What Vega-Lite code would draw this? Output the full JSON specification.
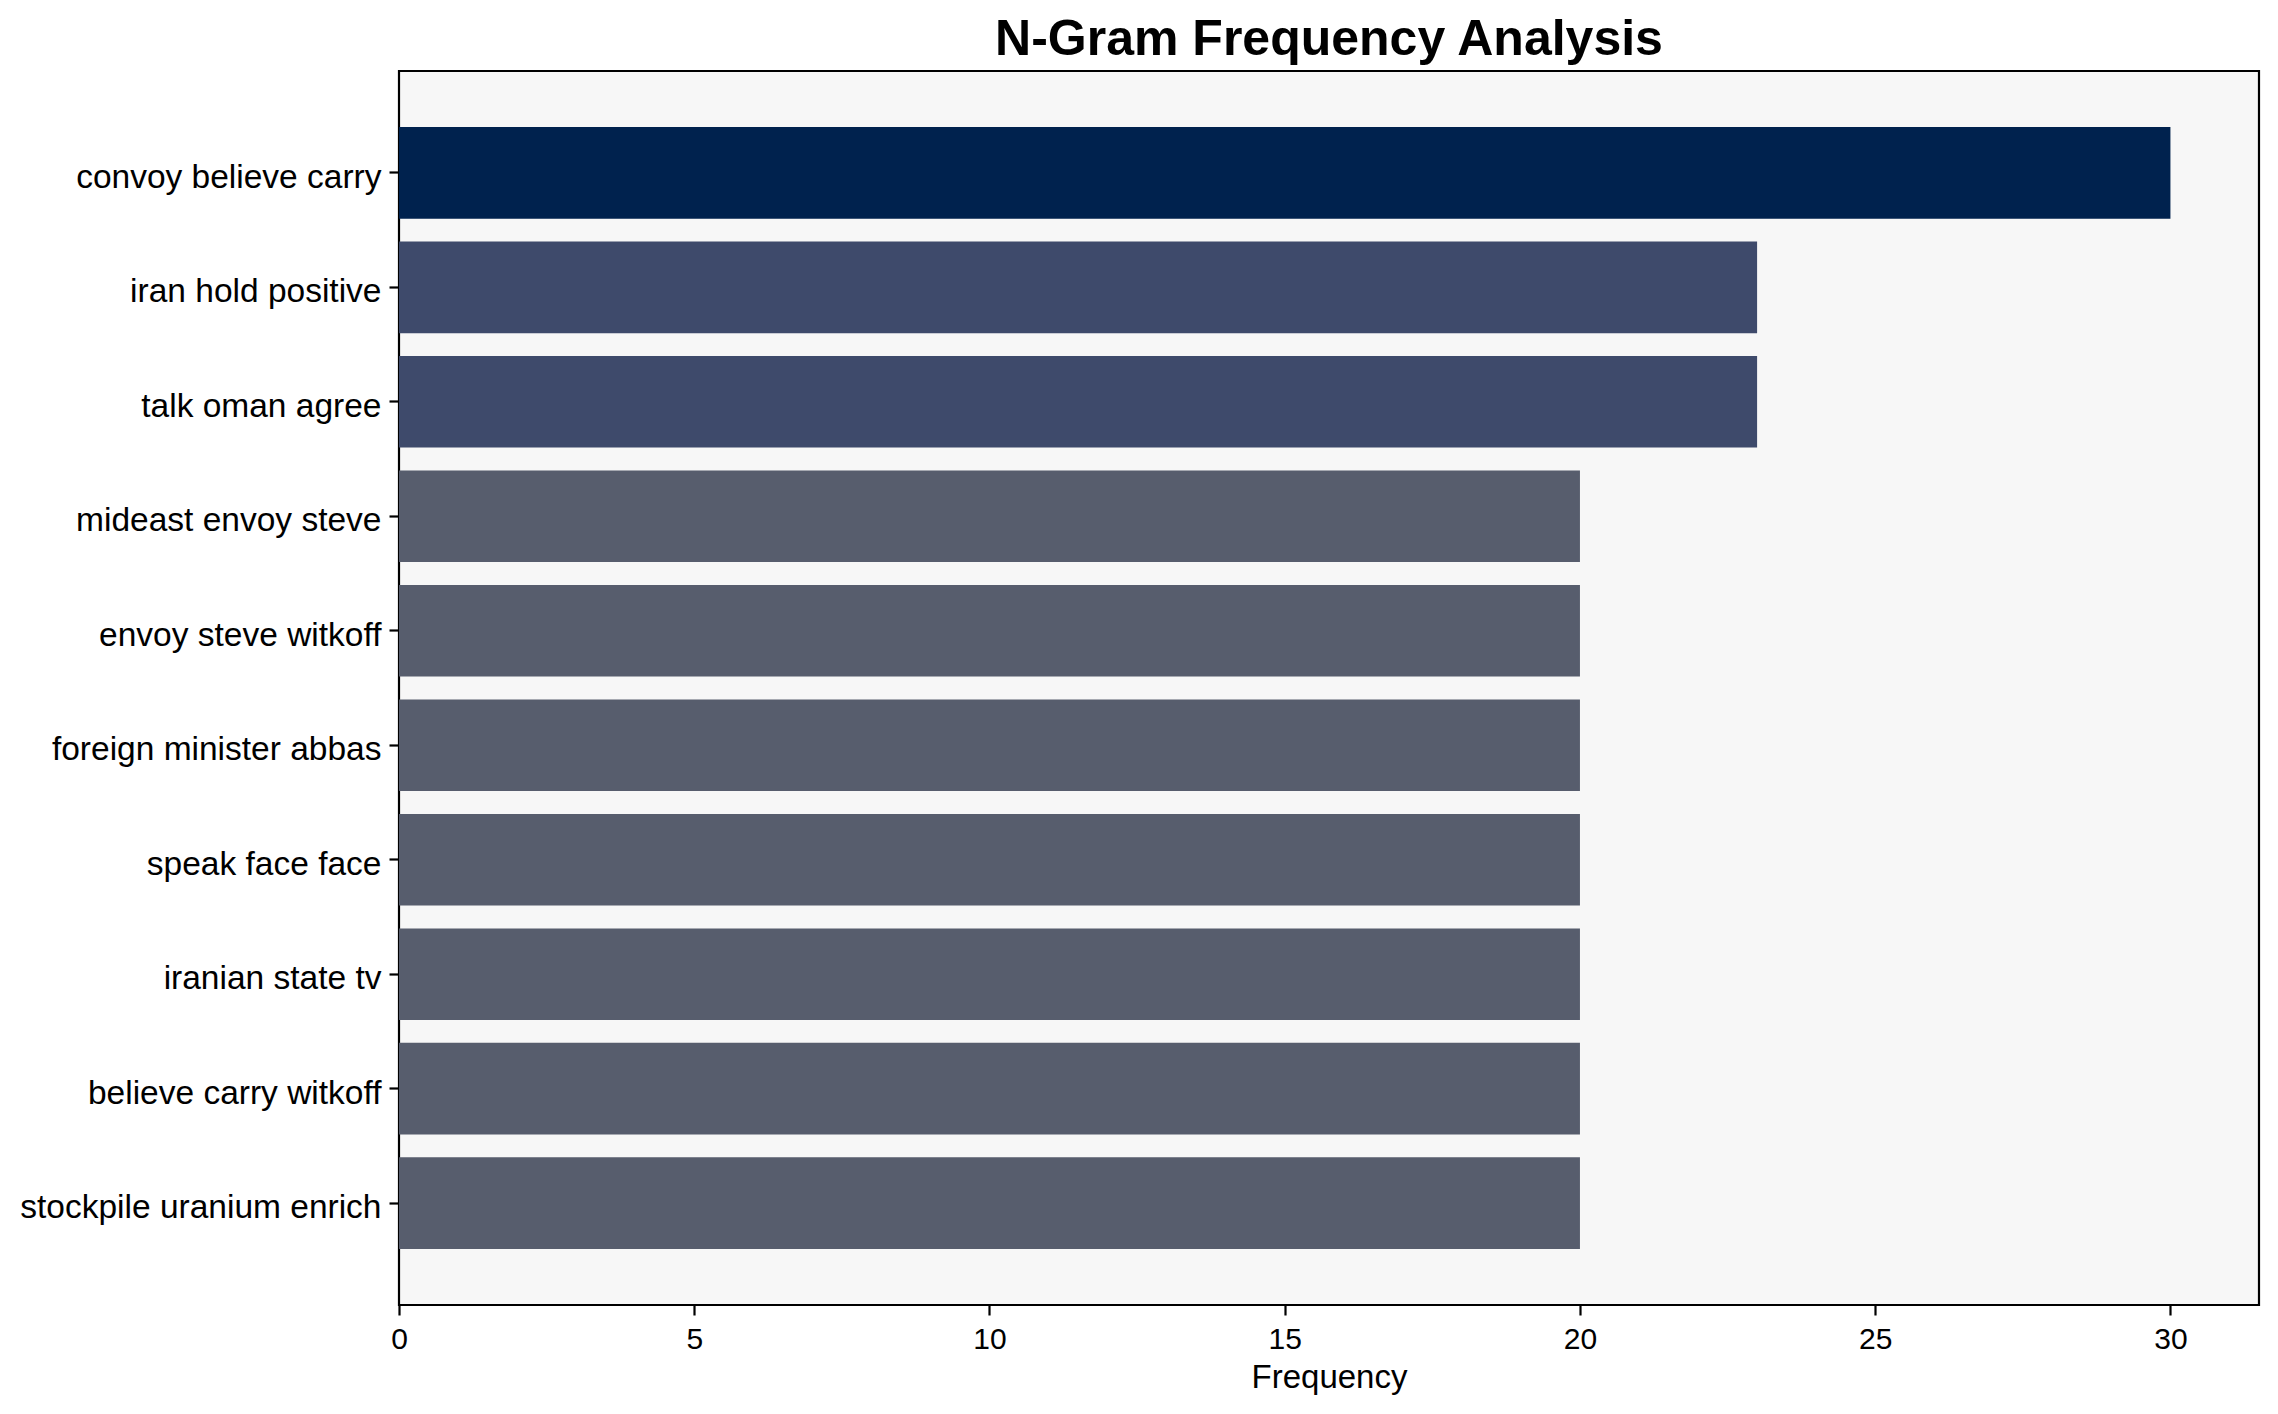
{
  "$schema": "https://vega.github.io/schema/vega-lite/v6.json",
  "autosize": {"type": "none"},
  "padding": {"left": 399, "top": 71, "right": 19, "bottom": 109},
  "width": 1860,
  "height": 1234,
  "background": "white",
  "title": {
    "text": "N-Gram Frequency Analysis",
    "font": "Liberation Sans",
    "fontSize": 50,
    "fontWeight": "bold",
    "color": "black",
    "anchor": "middle",
    "offset": 6
  },
  "config": {
    "view": {"fill": "#f7f7f7", "stroke": "black", "strokeWidth": 2.2}
  },
  "data": {
    "values": [
      {"ngram": "convoy believe carry", "frequency": 30},
      {"ngram": "iran hold positive", "frequency": 23},
      {"ngram": "talk oman agree", "frequency": 23},
      {"ngram": "mideast envoy steve", "frequency": 20},
      {"ngram": "envoy steve witkoff", "frequency": 20},
      {"ngram": "foreign minister abbas", "frequency": 20},
      {"ngram": "speak face face", "frequency": 20},
      {"ngram": "iranian state tv", "frequency": 20},
      {"ngram": "believe carry witkoff", "frequency": 20},
      {"ngram": "stockpile uranium enrich", "frequency": 20}
    ]
  },
  "mark": {"type": "bar"},
  "encoding": {
    "y": {
      "field": "ngram",
      "type": "nominal",
      "sort": null,
      "scale": {"paddingInner": 0.2, "paddingOuter": 0.49},
      "axis": {
        "title": null,
        "domain": false,
        "labelFont": "Liberation Sans",
        "labelFontSize": 33.5,
        "labelColor": "black",
        "labelPadding": 8,
        "labelOffset": 5,
        "labelLimit": 600,
        "tickColor": "black",
        "tickWidth": 2.2,
        "tickSize": 10
      }
    },
    "x": {
      "field": "frequency",
      "type": "quantitative",
      "scale": {"domain": [0, 31.5], "nice": false},
      "axis": {
        "title": "Frequency",
        "titleFont": "Liberation Sans",
        "titleFontSize": 33,
        "titleFontWeight": "normal",
        "titleColor": "black",
        "titlePadding": 7,
        "values": [0, 5, 10, 15, 20, 25, 30],
        "grid": false,
        "domain": false,
        "labelFlush": false,
        "labelFont": "Liberation Sans",
        "labelFontSize": 30,
        "labelColor": "black",
        "labelPadding": 9,
        "tickColor": "black",
        "tickWidth": 2.2,
        "tickSize": 10
      }
    },
    "color": {
      "field": "frequency",
      "type": "ordinal",
      "scale": {"domain": [20, 23, 30], "range": ["#575d6d", "#3e4a6b", "#00224e"]},
      "legend": null
    }
  }
}
